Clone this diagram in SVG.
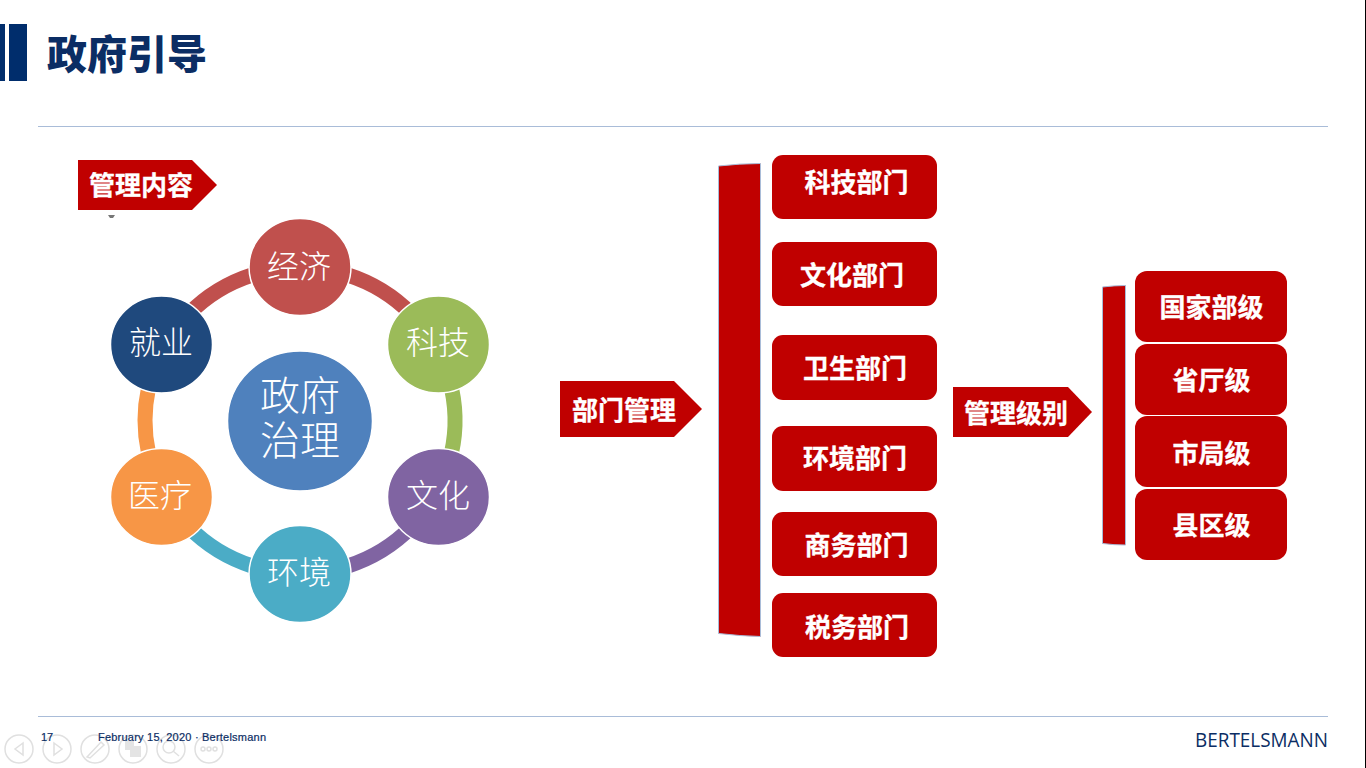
<svg xmlns="http://www.w3.org/2000/svg" width="1366" height="768" viewBox="0 0 1366 768">
<style>
text{font-family:"Noto Sans CJK SC","Noto Sans",sans-serif}
.b{font-weight:700;font-size:26px;fill:#fff;stroke:#fff;stroke-width:.3;text-anchor:middle}
.c{font-weight:300;font-size:32px;fill:#fff;text-anchor:middle}
.r{fill:#c00000}
.br{fill:#c00000;stroke:#a9bcd8;stroke-width:1}
.arc{fill:none;stroke-width:15}
.n{stroke:#fff;stroke-width:1.5}
.f{font-family:"Liberation Sans",Arial,sans-serif;font-size:11px;fill:#0b2d64;stroke:#0b2d64;stroke-width:.2}
.ic{fill:none;stroke:#e0e0e0;stroke-width:1.5}
</style>
<rect width="1366" height="768" fill="#fff"/>
<rect x="1365" y="0" width="1" height="768" fill="#000"/>
<g id="header">
<rect x="0" y="24" width="5" height="57" fill="#002d6c"/>
<rect x="9" y="24" width="18" height="57" fill="#002d6c"/>
<text x="47" y="69" font-size="40" font-weight="900" fill="#0b2d64">政府引导</text>
<rect x="38" y="126" width="1290" height="1" fill="#a9bcd8"/>
</g>
<g id="tag-content"><path class="r" d="M78 160H192L217 185L192 210H78Z"/><text class="b" x="141" y="195">管理内容</text></g>
<path d="M108 215h7l-2 3h-3z" fill="#777"/>
<g id="connectors">
<path class="arc" style="stroke:#c0504d" d="M347.9 275A155 153 0 0 1 411.5 314.2"/>
<path class="arc" style="stroke:#c0504d" d="M188.5 314.2A155 153 0 0 1 252.1 275"/>
<path class="arc" style="stroke:#9bbb59" d="M451.6 388.7A155 153 0 0 1 449 462.7"/>
<path class="arc" style="stroke:#8064a2" d="M411.5 526.8A155 153 0 0 1 347.9 566"/>
<path class="arc" style="stroke:#4bacc6" d="M252.1 566A155 153 0 0 1 188.5 526.8"/>
<path class="arc" style="stroke:#f79646" d="M148.4 452.3A155 153 0 0 1 148.4 388.7"/>
</g>
<g id="center"><ellipse class="n" cx="300" cy="421" rx="72.5" ry="70" fill="#4f81bd"/><text class="c" style="font-size:40px"><tspan x="300" y="410">政府</tspan><tspan x="300" y="455">治理</tspan></text></g>
<g id="n-jingji"><ellipse class="n" cx="300" cy="267" rx="51" ry="48.5" fill="#c0504d"/><text class="c" x="299" y="278">经济</text></g>
<g id="n-keji"><ellipse class="n" cx="438.5" cy="344.5" rx="51" ry="48.5" fill="#9bbb59"/><text class="c" x="438" y="354">科技</text></g>
<g id="n-wenhua"><ellipse class="n" cx="438.5" cy="497" rx="51" ry="48.5" fill="#8064a2"/><text class="c" x="438" y="507">文化</text></g>
<g id="n-huanjing"><ellipse class="n" cx="300" cy="574" rx="51" ry="48.5" fill="#4bacc6"/><text class="c" x="299" y="584">环境</text></g>
<g id="n-yiliao"><ellipse class="n" cx="161.5" cy="497" rx="51" ry="48.5" fill="#f79646"/><text class="c" x="160" y="507">医疗</text></g>
<g id="n-jiuye"><ellipse class="n" cx="161.5" cy="344.5" rx="51" ry="48.5" fill="#1f497d"/><text class="c" x="161" y="354">就业</text></g>
<g id="tag-dept"><path class="r" d="M560 381H674L702 409L674 437H560Z"/><text class="b" x="624" y="420">部门管理</text></g>
<g id="bracket-dept"><path class="br" d="M718.5 166Q740 163.5 760.5 163.5V636.5Q740 636 718.5 633.5Z"/></g>
<g id="d1"><rect class="r" x="772" y="155" width="165" height="64" rx="11"/><text class="b" x="856.5" y="192">科技部门</text></g>
<g id="d2"><rect class="r" x="772" y="242" width="165" height="64" rx="11"/><text class="b" x="852" y="285">文化部门</text></g>
<g id="d3"><rect class="r" x="772" y="335" width="165" height="65" rx="11"/><text class="b" x="855" y="378">卫生部门</text></g>
<g id="d4"><rect class="r" x="772" y="426" width="165" height="65" rx="11"/><text class="b" x="855" y="468">环境部门</text></g>
<g id="d5"><rect class="r" x="772" y="512" width="165" height="64" rx="11"/><text class="b" x="856.5" y="555">商务部门</text></g>
<g id="d6"><rect class="r" x="772" y="593" width="165" height="64" rx="11"/><text class="b" x="857" y="637">税务部门</text></g>
<g id="tag-level"><path class="r" d="M953 387H1068L1092 412L1068 437H953Z"/><text class="b" x="1016" y="423">管理级别</text></g>
<g id="bracket-level"><path class="br" d="M1102.5 287Q1114 285.5 1125.5 285.5V545Q1114 545 1102.5 543.5Z"/></g>
<g id="l1"><rect class="r" x="1135" y="271" width="152" height="71" rx="12"/><text class="b" x="1211.5" y="317">国家部级</text></g>
<g id="l2"><rect class="r" x="1135" y="344" width="152" height="71" rx="12"/><text class="b" x="1211.5" y="390">省厅级</text></g>
<g id="l3"><rect class="r" x="1135" y="416" width="152" height="71" rx="12"/><text class="b" x="1211.5" y="463">市局级</text></g>
<g id="l4"><rect class="r" x="1135" y="489" width="152" height="71" rx="12"/><text class="b" x="1211.5" y="535">县区级</text></g>
<g id="nav">
<circle class="ic" cx="19" cy="749" r="14"/><path class="ic" d="M23 743L15 749L23 755Z"/>
<circle class="ic" cx="57" cy="749" r="14"/><path class="ic" d="M54 743L62 749L54 755Z"/>
<circle class="ic" cx="95" cy="749" r="14"/><path class="ic" d="M87 757L101 742L104 745L90 758Z"/>
<circle class="ic" cx="133" cy="749" r="14"/><rect x="125" y="741" width="9" height="9" fill="#e4e4e4"/><rect x="130" y="746" width="11" height="11" fill="#e4e4e4"/>
<circle class="ic" cx="171" cy="749" r="14"/><circle class="ic" cx="169" cy="747" r="6"/><path class="ic" d="M173 751L179 756"/>
<circle class="ic" cx="209" cy="749" r="14"/><circle class="ic" cx="203" cy="749" r="2"/><circle class="ic" cx="209" cy="749" r="2"/><circle class="ic" cx="215" cy="749" r="2"/>
</g>
<g id="footer">
<rect x="38" y="716" width="1290" height="1" fill="#a9bcd8"/>
<text class="f" x="41" y="741">17</text>
<text class="f" x="98" y="741" textLength="168">February 15, 2020 · Bertelsmann</text>
<text x="1195" y="747" font-size="19.5" font-weight="500" fill="#0b2d64" textLength="133" lengthAdjust="spacingAndGlyphs" style="font-family:'Open Sans','Noto Sans',sans-serif">BERTELSMANN</text>
</g>
</svg>
